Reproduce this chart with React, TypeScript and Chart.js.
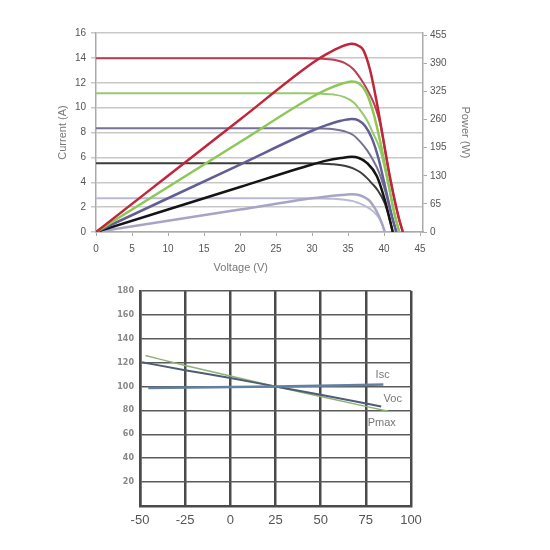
import React, { useEffect, useRef } from "react";
import { Chart, registerables } from "chart.js";
Chart.register(...registerables);

// ---------- Top chart: I-V and P-V curves ----------
const voltageTicks = [0, 5, 10, 15, 20, 25, 30, 35, 40, 45];
const powerTicks = [0, 65, 130, 195, 260, 325, 390, 455];

const redPowerV = [0, 10, 20, 30, 32, 34, 35.5, 36.5, 37.1, 38.06, 39, 39.9, 40.8, 42, 42.6];
const redPowerW = [0, 130, 260, 390, 411, 428, 435, 430, 421, 374, 298, 213, 128, 35, 0];
const greenPowerV = [0, 10, 20, 30, 32, 34, 35.5, 36.49, 37.48, 38.47, 39.46, 40.45, 41.44, 42.1];
const greenPowerW = [0, 104, 208, 312, 329, 342, 348, 344, 324, 278, 209, 125, 42, 0];
const purplePowerV = [0, 10, 20, 30, 32, 34, 35.5, 36.43, 37.36, 38.29, 39.22, 40.15, 41.08, 41.7];
const purplePowerW = [0, 78, 156, 234, 247, 257, 261, 258, 245, 217, 170, 104, 37, 0];
const blackPowerV = [0, 10, 20, 30, 32, 34, 35.5, 36.5, 37.6, 39, 40.1, 40.8, 41.2];
const blackPowerW = [0, 52, 104, 156, 165, 171, 174, 171, 160, 129, 74, 28, 0];
const lavenderPowerV = [0, 10, 20, 30, 32, 34, 35.5, 36.5, 37.3, 38.06, 38.6, 39.2, 39.7, 40.1];
const lavenderPowerW = [0, 26, 52, 78, 82, 85.5, 87, 85.5, 80, 71, 58, 40, 20, 0];

const redCurrentV = [0, 29, 31, 33, 34.5, 35.7, 37.1, 38.06, 38.75, 39.5, 40.3, 40.8, 42, 42.6];
const redCurrentA = [13.96, 13.96, 13.94, 13.85, 13.6, 13.1, 12.0, 11.0, 10.1, 8.6, 6.0, 4.4, 1.2, 0];
const greenCurrentV = [0, 29, 31, 33, 34.5, 35.7, 36.8, 37.7, 38.5, 39.46, 40.45, 41.44, 42.1];
const greenCurrentA = [11.15, 11.15, 11.13, 11.05, 10.85, 10.45, 9.7, 8.9, 7.9, 6.6, 4.2, 1.45, 0];
const purpleCurrentV = [0, 29, 31, 33, 34.5, 35.7, 36.7, 37.6, 38.4, 39.22, 40.15, 41.08, 41.7];
const purpleCurrentA = [8.34, 8.34, 8.32, 8.26, 8.1, 7.8, 7.25, 6.6, 5.85, 4.9, 3.3, 1.25, 0];
const blackCurrentV = [0, 29, 31, 33, 34.5, 35.7, 36.7, 37.6, 38.4, 39, 40.1, 40.8, 41.2];
const blackCurrentA = [5.52, 5.52, 5.5, 5.45, 5.33, 5.12, 4.8, 4.35, 3.85, 3.45, 2.3, 0.95, 0];
const lavenderCurrentV = [0, 29, 31, 33, 34.5, 35.7, 36.6, 37.4, 38.06, 38.6, 39.2, 39.7, 40.1];
const lavenderCurrentA = [2.71, 2.71, 2.7, 2.67, 2.6, 2.48, 2.3, 2.08, 1.85, 1.6, 1.2, 0.65, 0];

// ---------- Bottom chart: temperature coefficients ----------
const tempTicks = [-50, -25, 0, 25, 50, 75, 100];
const iscT = [-45.4, 25, 84.7];
const iscPct = [98.6, 100, 101.6];
const vocT = [-49, -25, 0, 25, 50, 83.5];
const vocPct = [120.3, 113.6, 107, 100, 93, 83.2];
const pmaxT = [-47, -25, 0, 25, 50, 87.4];
const pmaxPct = [125.8, 117.6, 108.8, 100, 91.6, 79.2];
const curveNames = ["Isc", "Voc", "Pmax"];

const zip = (xs: number[], ys: number[]) => xs.map((x, i) => ({ x, y: ys[i] }));
const FONT = '"Liberation Sans", Arial, sans-serif';

function line(label: string, xs: number[], ys: number[], color: string, width: number, axis = "y") {
  return {
    label,
    data: zip(xs, ys),
    borderColor: color,
    backgroundColor: color,
    borderWidth: width,
    pointRadius: 0,
    cubicInterpolationMode: "monotone" as const,
    yAxisID: axis,
    fill: false,
  };
}

function TopChart() {
  const ref = useRef<HTMLCanvasElement>(null);
  useEffect(() => {
    const titlePlugin = {
      id: "voltageTitle",
      afterDraw(chart: any) {
        const { ctx } = chart;
        ctx.save();
        ctx.font = `11px ${FONT}`;
        ctx.fillStyle = "#777";
        ctx.textAlign = "center";
        ctx.textBaseline = "middle";
        ctx.fillText("Voltage (V)", chart.scales.x.getPixelForValue(20.1), 268);
        ctx.restore();
      },
    };
    const chart = new Chart(ref.current!, {
      type: "line",
      data: {
        datasets: [
          line("P red", redPowerV, redPowerW, "rgb(192,38,58)", 2.5, "y1"),
          line("P green", greenPowerV, greenPowerW, "rgb(140,200,85)", 2.5, "y1"),
          line("P purple", purplePowerV, purplePowerW, "rgb(98,94,148)", 2.5, "y1"),
          line("P black", blackPowerV, blackPowerW, "rgb(20,20,20)", 2.5, "y1"),
          line("P lavender", lavenderPowerV, lavenderPowerW, "rgb(168,164,198)", 2.5, "y1"),
          line("I red", redCurrentV, redCurrentA, "rgb(188,62,82)", 2),
          line("I green", greenCurrentV, greenCurrentA, "rgb(150,202,112)", 2),
          line("I purple", purpleCurrentV, purpleCurrentA, "rgb(118,114,150)", 2),
          line("I black", blackCurrentV, blackCurrentA, "rgb(60,60,60)", 2),
          line("I lavender", lavenderCurrentV, lavenderCurrentA, "rgb(186,186,212)", 2),
        ],
      },
      options: {
        animation: false,
        responsive: false,
        devicePixelRatio: 1,
        layout: { padding: { top: 33, left: 0, right: 0, bottom: 0 } },
        plugins: { legend: { display: false }, tooltip: { enabled: false } },
        scales: {
          x: {
            type: "linear",
            min: 0,
            max: 45.4,
            afterFit: (s: any) => { s.height = 48; },
            afterBuildTicks: (s: any) => { s.ticks = voltageTicks.map((v) => ({ value: v })); },
            grid: { drawOnChartArea: false, drawTicks: true, tickLength: 4, color: "#aaa" },
            border: { color: "#aaa", width: 1.5 },
            ticks: { padding: 7, color: "#555", font: { family: FONT, size: 10 }, maxRotation: 0 },
          },
          y: {
            type: "linear",
            position: "left",
            min: 0,
            max: 16,
            afterFit: (s: any) => { s.width = 96; },
            ticks: { stepSize: 2, padding: 5, color: "#555", font: { family: FONT, size: 10 } },
            grid: { color: "#c8c8c8", lineWidth: 1.5, tickLength: 5 },
            border: { color: "#aaa", width: 1.5 },
            title: { display: true, text: "Current (A)", color: "#777", font: { family: FONT, size: 11 }, padding: { top: 56, bottom: 0 } },
          },
          y1: {
            type: "linear",
            position: "right",
            min: 0,
            max: 460,
            afterFit: (s: any) => { s.width = 127; },
            afterBuildTicks: (s: any) => { s.ticks = powerTicks.map((v) => ({ value: v })); },
            ticks: { padding: 3, color: "#555", font: { family: FONT, size: 10 } },
            grid: { drawOnChartArea: false, tickLength: 4, color: "#aaa" },
            border: { color: "#aaa", width: 1.5 },
            title: { display: true, text: "Power (W)", color: "#777", font: { family: FONT, size: 11 }, padding: { top: 78, bottom: 0 } },
          },
        },
      },
      plugins: [titlePlugin],
    } as any);
    return () => chart.destroy();
  }, []);
  return <canvas ref={ref} width={550} height={280} style={{ position: "absolute", left: 0, top: 0, width: 550, height: 280 }} />;
}

function BottomChart() {
  const ref = useRef<HTMLCanvasElement>(null);
  useEffect(() => {
    const labelPlugin = {
      id: "curveLabels",
      afterDatasetsDraw(chart: any) {
        const { ctx, scales } = chart;
        const anchors = [
          [84.3, 109.7],
          [89.9, 89.8],
          [83.8, 69.4],
        ];
        ctx.save();
        ctx.font = `11px ${FONT}`;
        ctx.fillStyle = "#777";
        ctx.textAlign = "center";
        ctx.textBaseline = "middle";
        curveNames.forEach((n, i) => {
          ctx.fillText(n, scales.x.getPixelForValue(anchors[i][0]), scales.y.getPixelForValue(anchors[i][1]));
        });
        ctx.restore();
      },
    };
    const chart = new Chart(ref.current!, {
      type: "line",
      data: {
        datasets: [
          line("Isc", iscT, iscPct, "rgb(98,128,160)", 2.5),
          line("Voc", vocT, vocPct, "rgb(78,92,118)", 2),
          line("Pmax", pmaxT, pmaxPct, "rgb(140,178,118)", 1.5),
        ],
      },
      options: {
        animation: false,
        responsive: false,
        devicePixelRatio: 1,
        layout: { padding: { top: 10, left: 0, right: 139, bottom: 0 } },
        plugins: { legend: { display: false }, tooltip: { enabled: false } },
        scales: {
          x: {
            type: "linear",
            min: -50,
            max: 100,
            afterFit: (s: any) => { s.height = 44; },
            afterBuildTicks: (s: any) => { s.ticks = tempTicks.map((v) => ({ value: v })); },
            grid: { color: "#4a4a4a", lineWidth: 2.5, drawTicks: false },
            border: { color: "#4a4a4a", width: 2.5 },
            ticks: { padding: 7, color: "#555", font: { family: FONT, size: 13 }, maxRotation: 0 },
          },
          y: {
            type: "linear",
            min: 0,
            max: 180,
            afterFit: (s: any) => { s.width = 140; },
            ticks: {
              stepSize: 20,
              padding: 6,
              color: "#888",
              font: { family: '"DejaVu Sans", sans-serif', size: 8, weight: "bold" },
              callback: (v: any) => (v === 0 ? "" : String(v)),
            },
            grid: { color: "#5a5a5a", lineWidth: 1.5, drawTicks: false },
            border: { color: "#4a4a4a", width: 2.5 },
          },
        },
      },
      plugins: [labelPlugin],
    } as any);
    return () => chart.destroy();
  }, []);
  return <canvas ref={ref} width={550} height={270} style={{ position: "absolute", left: 0, top: 280, width: 550, height: 270 }} />;
}

export default function App() {
  return (
    <div style={{ position: "absolute", left: 0, top: 0, width: 550, height: 550, background: "#fff" }}>
      <TopChart />
      <BottomChart />
    </div>
  );
}
